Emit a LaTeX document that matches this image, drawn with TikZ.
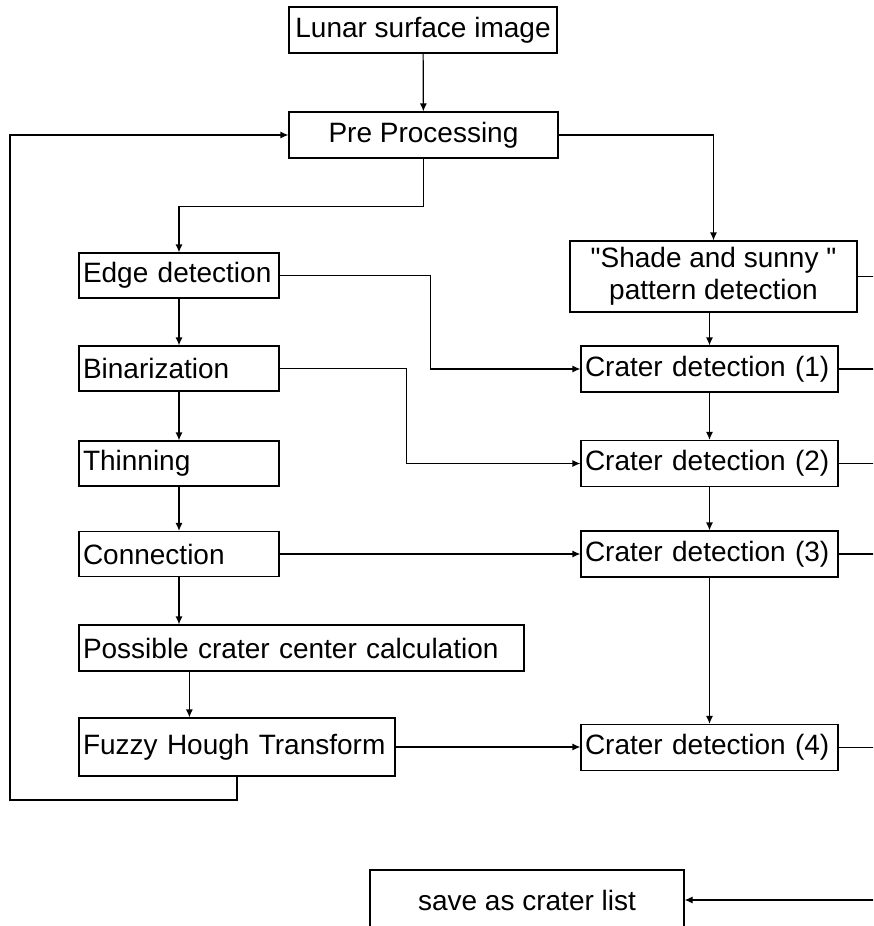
\documentclass[tikz,border=0pt]{standalone}
\usepackage{fontspec}
\setmainfont{Liberation Sans}
\usetikzlibrary{arrows.meta}

\begin{document}
\begin{tikzpicture}[x=1pt,y=-1pt,font=\fontsize{28}{32}\selectfont,
	box/.style={draw,line width=1.2pt,inner xsep=4pt,inner ysep=0pt,minimum height=46pt},
	lbox/.style={box,text width=#1,align=left},
	cbox/.style={box,minimum width=#1,align=center},
	ln/.style={line width=1.2pt},
	arr/.style={ln,-{Latex[length=8pt,width=7pt]}}]
			\useasboundingbox (0,0) rectangle (873,926);
			\clip (0,0) rectangle (873,926);
			% left column
			\node[cbox=268pt] (img) at (423,30) {Lunar surface image};
			\node[cbox=269pt] (pre) at (423.5,135) {Pre Processing};
			\node[lbox=192pt,minimum height=45pt] (edge) at (179,275.5) {Edge detection};
			\node[lbox=192pt,minimum height=45pt] (bin) at (179,368.5) {Binarization};
			\node[lbox=192pt,minimum height=45pt] (thin) at (179,463.5) {Thinning};
			\node[lbox=192pt,minimum height=45pt] (conn) at (179,554) {Connection};
			\node[lbox=437pt] (center) at (301.5,648) {Possible crater center calculation};
			\node[lbox=308pt,minimum height=58pt] (fht) at (237,747) {Fuzzy Hough Transform};
			% right column
			\node[cbox=287pt,minimum height=71pt] (shade) at (713.5,276.5) {\textquotedbl Shade and sunny \textquotedbl\\pattern detection};
			\node[lbox=249pt] (cd1) at (709.5,369) {Crater detection (1)};
			\node[lbox=249pt] (cd2) at (709.5,463.5) {Crater detection (2)};
			\node[lbox=249pt] (cd3) at (709.5,554) {Crater detection (3)};
			\node[lbox=249pt] (cd4) at (709.5,747.5) {Crater detection (4)};
			\node[cbox=314pt,minimum height=60pt] (save) at (527,900) {save as crater list};
			\coordinate (rim) at (885,0);
			\coordinate (lp) at (10,800);
			% connectors
			\draw[arr] (img) -- (pre);
			\draw[arr] (pre.east) -| (shade.north);
			\draw[arr] (pre.south) -- ++(0,48) -| (edge.north);
			\draw[arr] (edge) -- (bin);
			\draw[arr] (bin) -- (thin);
			\draw[arr] (thin) -- (conn);
			\draw[arr] (conn.south) -- (conn.south |- center.north);
			\draw[arr] ([xshift=111pt]center.south west) -- ([xshift=111pt]fht.north west);
			\draw[arr] (fht.south) |- (lp) |- (pre.west);
			\draw[arr] (cd1.north |- shade.south) -- (cd1.north);
			\draw[arr] (cd1) -- (cd2);
			\draw[arr] (cd2) -- (cd3);
			\draw[arr] (cd3) -- (cd4);
			\draw[arr] (edge.east) -- ++(151,0) |- (cd1.west);
			\draw[arr] (bin.east) -- ++(127,0) |- (cd2.west);
			\draw[arr] (conn.east) -- (conn.east -| cd3.west);
			\draw[arr] (fht.east) -- (fht.east -| cd4.west);
			\foreach \n in {shade,cd1,cd2,cd3,cd4}
				\draw[ln] (\n.east) -- (\n.east -| rim);
			\draw[arr] (save.east -| rim) -- (save.east);
\end{tikzpicture}
\end{document}
